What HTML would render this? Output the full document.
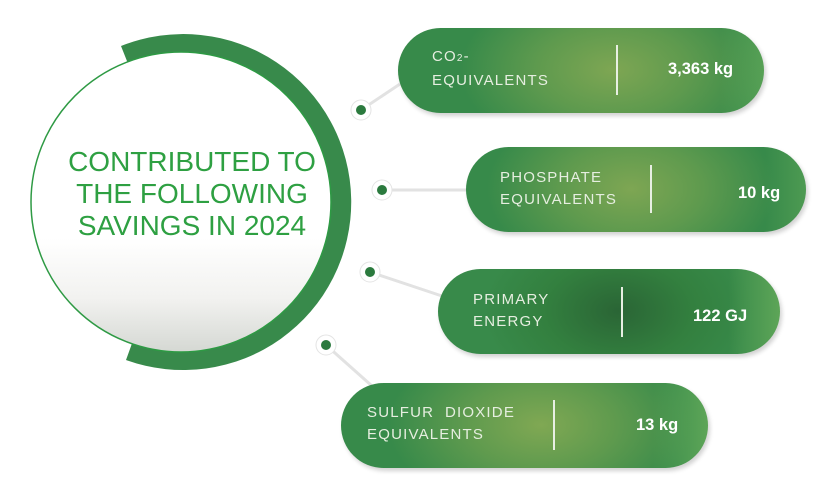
<!DOCTYPE html>
<html><head><meta charset="utf-8"><style>
html,body{margin:0;padding:0;background:#fff;}
body{width:826px;height:498px;position:relative;overflow:hidden;font-family:"Liberation Sans",sans-serif;}
.pill{position:absolute;border-radius:43px;height:85px;box-shadow:2px 3px 4px rgba(0,0,0,0.18);}
.lab{position:absolute;color:#e6eee0;font-size:15px;letter-spacing:1.2px;line-height:22px;}
.val{position:absolute;color:#fff;font-weight:bold;font-size:16.5px;}
.div{position:absolute;width:2px;background:#e8efe3;}
</style></head><body>
<svg width="826" height="498" style="position:absolute;left:0;top:0">
<defs>
<linearGradient id="wg" x1="0" y1="0" x2="0" y2="1">
<stop offset="0.62" stop-color="#ffffff"/><stop offset="0.82" stop-color="#f2f2f0"/><stop offset="1" stop-color="#d5d8d3"/>
</linearGradient>
</defs>
<path d="M121,46 A168,168 0 1 1 126,360 L183,202 Z" fill="#388a4b"/>
<circle cx="181" cy="202" r="150" fill="url(#wg)" stroke="#2e9a44" stroke-width="1.5"/>
<g stroke="#e2e2e2" stroke-width="3" fill="none">
<line x1="361" y1="110" x2="400" y2="84"/>
<line x1="382" y1="190" x2="468" y2="190"/>
<line x1="370" y1="272" x2="442" y2="296"/>
<line x1="326" y1="345" x2="372" y2="386"/>
</g>
<g fill="#fff" stroke="#e4e4e4" stroke-width="1">
<circle cx="361" cy="110" r="10"/><circle cx="382" cy="190" r="10"/><circle cx="370" cy="272" r="10"/><circle cx="326" cy="345" r="10"/>
</g>
<g fill="#2b7a3e">
<circle cx="361" cy="110" r="5"/><circle cx="382" cy="190" r="5"/><circle cx="370" cy="272" r="5"/><circle cx="326" cy="345" r="5"/>
</g>
<text x="192" y="171" text-anchor="middle" font-family="Liberation Sans,sans-serif" font-size="28" fill="#2ea042">CONTRIBUTED TO</text>
<text x="192" y="203" text-anchor="middle" font-family="Liberation Sans,sans-serif" font-size="28" fill="#2ea042">THE FOLLOWING</text>
<text x="192" y="235" text-anchor="middle" font-family="Liberation Sans,sans-serif" font-size="28" fill="#2ea042">SAVINGS IN 2024</text>
</svg>

<div class="pill" style="left:398px;top:28px;width:366px;background:linear-gradient(to right,rgba(0,0,0,0) 88%,rgba(100,170,90,.7) 100%),radial-gradient(ellipse 170px 100px at 215px 42px,#7ea653 0%,#5e9a4e 45%,#378a4a 90%),#378a4a;"></div>
<div class="lab" style="left:432px;top:46px;">CO<span style="font-size:10px">2</span>-<br>EQUIVALENTS</div>
<div class="div" style="left:616px;top:45px;height:50px;"></div>
<div class="val" style="left:668px;top:60px;">3,363 kg</div>

<div class="pill" style="left:466px;top:147px;width:340px;background:linear-gradient(to right,rgba(0,0,0,0) 88%,rgba(100,170,90,.5) 100%),radial-gradient(ellipse 160px 100px at 165px 42px,#7ea653 0%,#5e9a4e 45%,#378a4a 90%),#378a4a;"></div>
<div class="lab" style="left:500px;top:167px;">PHOSPHATE<br>EQUIVALENTS</div>
<div class="div" style="left:650px;top:165px;height:48px;"></div>
<div class="val" style="left:738px;top:184px;">10 kg</div>

<div class="pill" style="left:438px;top:269px;width:342px;background:linear-gradient(to right,rgba(0,0,0,0) 85%,rgba(100,170,90,.85) 100%),radial-gradient(ellipse 150px 100px at 180px 42px,#2a6535 0%,#33803f 50%,#388a4a 90%),#388a4a;"></div>
<div class="lab" style="left:473px;top:289px;">PRIMARY<br>ENERGY</div>
<div class="div" style="left:621px;top:287px;height:50px;"></div>
<div class="val" style="left:693px;top:307px;">122 GJ</div>

<div class="pill" style="left:341px;top:383px;width:367px;background:linear-gradient(to right,rgba(0,0,0,0) 85%,rgba(100,170,90,.85) 100%),radial-gradient(ellipse 170px 100px at 200px 42px,#80a853 0%,#5e9a4e 45%,#378a4a 90%),#378a4a;"></div>
<div class="lab" style="left:367px;top:402px;">SULFUR&nbsp; DIOXIDE<br>EQUIVALENTS</div>
<div class="div" style="left:553px;top:400px;height:50px;"></div>
<div class="val" style="left:636px;top:416px;">13 kg</div>
</body></html>
